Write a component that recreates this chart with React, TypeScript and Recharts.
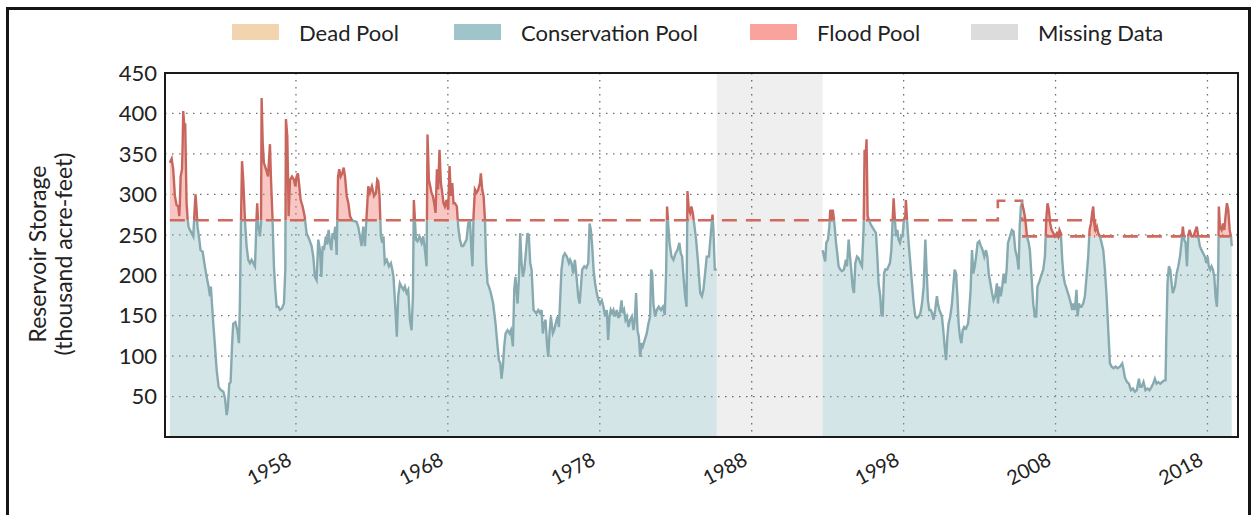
import React from 'react';
import { ComposedChart, Area, Line, XAxis, YAxis, CartesianGrid, ReferenceArea } from 'recharts';

// ---------- data (year, storage in thousand acre-feet) ----------
const storageEarly: [number, number][] = [
  [1949.70, 339], [1949.82, 344], [1949.92, 331], [1950.03, 298], [1950.14, 287], [1950.25, 285], [1950.32, 273],
  [1950.36, 289], [1950.41, 322], [1950.50, 331], [1950.54, 360], [1950.58, 403], [1950.65, 384], [1950.71, 388],
  [1950.76, 331], [1950.80, 289], [1950.87, 269], [1950.93, 260], [1951.02, 256], [1951.13, 252], [1951.24, 248],
  [1951.33, 281], [1951.39, 300], [1951.46, 281], [1951.52, 260], [1951.64, 244], [1951.72, 231], [1951.86, 229],
  [1951.97, 215], [1952.12, 198], [1952.25, 186], [1952.34, 174], [1952.40, 186], [1952.47, 165], [1952.56, 140],
  [1952.67, 112], [1952.78, 83], [1952.91, 62], [1953.06, 58], [1953.22, 56], [1953.33, 48], [1953.44, 27],
  [1953.52, 37], [1953.61, 66], [1953.70, 68], [1953.79, 112], [1953.87, 140], [1954.01, 142], [1954.14, 132],
  [1954.25, 116], [1954.31, 165], [1954.38, 264], [1954.45, 341], [1954.53, 318], [1954.64, 269], [1954.75, 236],
  [1954.86, 219], [1954.97, 215], [1955.08, 219], [1955.19, 215], [1955.30, 211], [1955.34, 231], [1955.41, 273],
  [1955.45, 289], [1955.52, 260], [1955.63, 248], [1955.70, 264], [1955.74, 419], [1955.81, 364], [1955.89, 339],
  [1956.03, 331], [1956.16, 322], [1956.29, 362], [1956.35, 322], [1956.46, 269], [1956.55, 211], [1956.64, 182],
  [1956.73, 161], [1956.84, 161], [1956.95, 157], [1957.08, 159], [1957.21, 165], [1957.30, 207], [1957.34, 393],
  [1957.43, 372], [1957.52, 273], [1957.61, 318], [1957.74, 322], [1957.87, 318], [1957.96, 310], [1958.04, 322],
  [1958.13, 326], [1958.22, 310], [1958.31, 293], [1958.44, 285], [1958.57, 273], [1958.70, 252], [1958.88, 244],
  [1959.03, 236], [1959.14, 223], [1959.25, 198], [1959.36, 194], [1959.47, 244], [1959.58, 231], [1959.67, 198],
  [1959.76, 236], [1959.84, 231], [1959.97, 248], [1960.06, 238], [1960.15, 256], [1960.24, 240], [1960.33, 231],
  [1960.41, 252], [1960.50, 248], [1960.59, 260], [1960.68, 225], [1960.77, 322], [1960.85, 331], [1960.94, 322],
  [1961.05, 326], [1961.14, 333], [1961.23, 322], [1961.34, 298], [1961.45, 289], [1961.56, 273], [1961.66, 269],
  [1961.77, 267], [1961.99, 266], [1962.10, 260], [1962.21, 248], [1962.32, 236], [1962.43, 260], [1962.54, 236],
  [1962.65, 273], [1962.76, 310], [1962.87, 302], [1963.00, 310], [1963.14, 298], [1963.27, 302], [1963.35, 318],
  [1963.42, 316], [1963.50, 298], [1963.59, 248], [1963.68, 240], [1963.76, 248], [1963.85, 215], [1963.98, 219],
  [1964.12, 211], [1964.25, 215], [1964.34, 207], [1964.42, 198], [1964.55, 157], [1964.64, 124], [1964.73, 174],
  [1964.84, 190], [1964.95, 186], [1965.08, 182], [1965.17, 186], [1965.28, 178], [1965.39, 182], [1965.50, 145],
  [1965.61, 132], [1965.70, 174], [1965.76, 293], [1965.83, 269], [1965.90, 244], [1966.00, 242], [1966.13, 248],
  [1966.27, 240], [1966.38, 248], [1966.49, 231], [1966.60, 211], [1966.66, 374], [1966.75, 318], [1966.84, 310],
  [1966.92, 302], [1967.01, 298], [1967.10, 289], [1967.19, 277], [1967.28, 331], [1967.36, 306], [1967.45, 355],
  [1967.54, 314], [1967.63, 302], [1967.71, 289], [1967.80, 285], [1967.91, 293], [1968.02, 281], [1968.11, 335],
  [1968.20, 298], [1968.29, 314], [1968.37, 289], [1968.46, 289], [1968.59, 285], [1968.68, 260], [1968.79, 244],
  [1968.90, 236], [1969.01, 236], [1969.12, 240], [1969.23, 244], [1969.34, 264], [1969.45, 269], [1969.56, 227],
  [1969.62, 211], [1969.69, 273], [1969.78, 306], [1969.89, 302], [1970.00, 306], [1970.11, 314], [1970.17, 326],
  [1970.26, 306], [1970.35, 298], [1970.44, 269], [1970.52, 215], [1970.61, 190], [1970.70, 186], [1970.83, 178],
  [1970.98, 165], [1971.14, 140], [1971.27, 112], [1971.36, 95], [1971.45, 91], [1971.53, 72], [1971.62, 87],
  [1971.71, 112], [1971.80, 128], [1971.93, 132], [1972.06, 128], [1972.15, 132], [1972.28, 112], [1972.37, 182],
  [1972.45, 198], [1972.59, 165], [1972.67, 194], [1972.76, 252], [1972.85, 215], [1972.94, 198], [1973.03, 207],
  [1973.11, 223], [1973.24, 252], [1973.33, 248], [1973.42, 215], [1973.51, 207], [1973.64, 157], [1973.82, 153],
  [1973.95, 157], [1974.08, 153], [1974.17, 157], [1974.25, 128], [1974.34, 140], [1974.43, 145], [1974.52, 116],
  [1974.61, 99], [1974.69, 128], [1974.78, 149], [1974.91, 128], [1975.00, 132], [1975.09, 140], [1975.22, 149],
  [1975.31, 136], [1975.40, 174], [1975.48, 207], [1975.59, 223], [1975.70, 227], [1975.83, 223], [1975.97, 215],
  [1976.05, 219], [1976.14, 215], [1976.25, 202], [1976.36, 219], [1976.47, 198], [1976.58, 174], [1976.67, 165],
  [1976.76, 186], [1976.84, 207], [1976.98, 211], [1977.11, 209], [1977.24, 215], [1977.33, 264], [1977.41, 256],
  [1977.50, 236], [1977.59, 207], [1977.69, 190], [1977.80, 178], [1977.91, 169], [1978.02, 165], [1978.13, 169],
  [1978.24, 161], [1978.35, 149], [1978.46, 157], [1978.55, 120], [1978.64, 149], [1978.72, 157], [1978.81, 153],
  [1978.90, 157], [1979.01, 149], [1979.12, 157], [1979.23, 147], [1979.34, 155], [1979.43, 169], [1979.51, 153],
  [1979.60, 157], [1979.69, 145], [1979.78, 149], [1979.89, 136], [1980.00, 145], [1980.11, 149], [1980.22, 132],
  [1980.30, 145], [1980.39, 178], [1980.48, 132], [1980.57, 124], [1980.66, 99], [1980.74, 116], [1980.83, 112],
  [1980.96, 120], [1981.09, 128], [1981.20, 140], [1981.31, 149], [1981.38, 207], [1981.45, 202], [1981.53, 165],
  [1981.64, 149], [1981.75, 157], [1981.88, 161], [1982.02, 157], [1982.15, 161], [1982.28, 151], [1982.37, 207],
  [1982.43, 285], [1982.50, 264], [1982.59, 240], [1982.72, 223], [1982.85, 219], [1982.98, 227], [1983.11, 231],
  [1983.24, 240], [1983.33, 227], [1983.42, 223], [1983.51, 198], [1983.62, 174], [1983.71, 161], [1983.77, 304],
  [1983.86, 281], [1983.95, 277], [1984.03, 285], [1984.12, 277], [1984.21, 264], [1984.34, 244], [1984.47, 215],
  [1984.61, 178], [1984.72, 174], [1984.82, 182], [1984.93, 202], [1985.04, 223], [1985.18, 223], [1985.26, 240],
  [1985.35, 260], [1985.42, 275], [1985.48, 256], [1985.57, 207], [1985.70, 207],
];

const storageLate: [number, number][] = [
  [1992.67, 231], [1992.76, 223], [1992.84, 217], [1992.91, 240], [1993.02, 244], [1993.11, 260], [1993.17, 281],
  [1993.24, 269], [1993.33, 281], [1993.39, 273], [1993.46, 260], [1993.55, 240], [1993.63, 227], [1993.72, 211],
  [1993.83, 207], [1993.94, 205], [1994.07, 207], [1994.20, 219], [1994.27, 211], [1994.38, 244], [1994.47, 223],
  [1994.55, 207], [1994.64, 186], [1994.73, 178], [1994.82, 215], [1994.93, 223], [1995.04, 221], [1995.15, 215],
  [1995.26, 211], [1995.37, 260], [1995.43, 355], [1995.50, 347], [1995.56, 368], [1995.63, 273], [1995.70, 269],
  [1995.81, 264], [1995.92, 260], [1996.05, 256], [1996.18, 252], [1996.27, 223], [1996.35, 190], [1996.46, 174],
  [1996.53, 153], [1996.62, 149], [1996.71, 202], [1996.79, 207], [1996.92, 207], [1997.01, 211], [1997.10, 215],
  [1997.19, 231], [1997.28, 269], [1997.34, 295], [1997.41, 273], [1997.50, 248], [1997.58, 256], [1997.67, 244],
  [1997.76, 240], [1997.85, 248], [1997.93, 248], [1998.02, 269], [1998.11, 273], [1998.15, 293], [1998.22, 269],
  [1998.33, 240], [1998.44, 215], [1998.55, 190], [1998.66, 165], [1998.77, 149], [1998.88, 147], [1998.99, 149],
  [1999.10, 153], [1999.21, 165], [1999.32, 186], [1999.43, 244], [1999.51, 207], [1999.60, 169], [1999.69, 157],
  [1999.78, 157], [1999.87, 153], [1999.97, 145], [2000.08, 157], [2000.19, 174], [2000.26, 165], [2000.35, 157],
  [2000.44, 153], [2000.52, 149], [2000.61, 132], [2000.70, 112], [2000.79, 95], [2000.88, 124], [2000.96, 140],
  [2001.07, 149], [2001.18, 165], [2001.27, 186], [2001.36, 207], [2001.45, 202], [2001.54, 174], [2001.62, 140],
  [2001.71, 124], [2001.80, 116], [2001.89, 132], [2001.98, 136], [2002.10, 134], [2002.24, 140], [2002.32, 157],
  [2002.41, 182], [2002.50, 231], [2002.59, 202], [2002.68, 211], [2002.77, 223], [2002.87, 240], [2002.98, 242],
  [2003.09, 236], [2003.20, 231], [2003.31, 223], [2003.42, 231], [2003.51, 223], [2003.60, 202], [2003.71, 190],
  [2003.82, 178], [2003.92, 169], [2004.03, 174], [2004.14, 190], [2004.21, 165], [2004.30, 186], [2004.39, 174],
  [2004.47, 182], [2004.58, 202], [2004.69, 190], [2004.78, 207], [2004.87, 240], [2005.00, 248], [2005.13, 256],
  [2005.24, 254], [2005.35, 231], [2005.46, 223], [2005.57, 207], [2005.64, 260], [2005.72, 285], [2005.79, 289],
  [2005.90, 281], [2006.01, 269], [2006.12, 248], [2006.23, 240], [2006.31, 231], [2006.42, 198], [2006.53, 165],
  [2006.64, 149], [2006.73, 149], [2006.81, 186], [2006.90, 190], [2007.03, 198], [2007.19, 207], [2007.30, 223],
  [2007.39, 269], [2007.47, 289], [2007.56, 281], [2007.65, 264], [2007.74, 256], [2007.85, 252], [2007.96, 248],
  [2008.09, 252], [2008.18, 248], [2008.26, 256], [2008.35, 252], [2008.44, 219], [2008.53, 198], [2008.61, 190],
  [2008.75, 182], [2008.88, 174], [2009.01, 165], [2009.10, 157], [2009.18, 165], [2009.27, 157], [2009.38, 182],
  [2009.45, 149], [2009.54, 165], [2009.62, 161], [2009.71, 161], [2009.82, 165], [2009.93, 174], [2010.04, 198],
  [2010.15, 223], [2010.24, 256], [2010.33, 264], [2010.41, 277], [2010.48, 285], [2010.55, 264], [2010.63, 256],
  [2010.72, 260], [2010.81, 252], [2010.92, 248], [2011.03, 240], [2011.14, 231], [2011.25, 207], [2011.36, 174],
  [2011.47, 132], [2011.58, 91], [2011.69, 87], [2011.82, 85], [2011.95, 87], [2012.08, 85], [2012.24, 87],
  [2012.39, 91], [2012.48, 83], [2012.56, 74], [2012.70, 68], [2012.83, 66], [2012.96, 58], [2013.09, 60],
  [2013.22, 56], [2013.35, 58], [2013.49, 72], [2013.57, 62], [2013.66, 62], [2013.79, 68], [2013.92, 58],
  [2014.06, 60], [2014.19, 58], [2014.32, 62], [2014.43, 66], [2014.54, 72], [2014.65, 66], [2014.76, 68],
  [2014.89, 66], [2015.02, 68], [2015.15, 70], [2015.24, 70], [2015.29, 124], [2015.37, 190], [2015.46, 211],
  [2015.55, 207], [2015.64, 190], [2015.72, 178], [2015.86, 186], [2015.97, 202], [2016.08, 211], [2016.19, 223],
  [2016.29, 240], [2016.38, 260], [2016.47, 244], [2016.56, 240], [2016.65, 211], [2016.73, 248], [2016.82, 256],
  [2016.95, 248], [2017.08, 248], [2017.22, 256], [2017.30, 260], [2017.39, 248], [2017.50, 236], [2017.61, 231],
  [2017.72, 227], [2017.83, 223], [2017.92, 215], [2018.01, 223], [2018.09, 211], [2018.18, 207], [2018.27, 211],
  [2018.36, 207], [2018.45, 198], [2018.53, 174], [2018.62, 161], [2018.71, 207], [2018.75, 285], [2018.82, 260],
  [2018.93, 256], [2019.02, 264], [2019.11, 256], [2019.19, 273], [2019.28, 289], [2019.37, 281], [2019.46, 256],
  [2019.55, 248], [2019.60, 236],
];

const missingStart = 1985.7;
const missingEnd = 1992.67;

// flood-control level schedule (year it starts, level)
const floodSchedule: [number, number][] = [[1949.0, 268], [2004.2, 292], [2005.8, 248]];
const floodUpper: [number, number][] = [
  [1949.7, 268], [2004.2, 268], [2004.2, 292], [2005.8, 292], [2005.8, 268],
  [2010.6, 268], [2010.6, 248], [2019.6, 248],
];
const floodLower: [number, number][] = [[2005.8, 248], [2010.6, 248]];

const xTicks = [1958, 1968, 1978, 1988, 1998, 2008, 2018];
const yTicks = [50, 100, 150, 200, 250, 300, 350, 400, 450];

const legendLabels = ['Dead Pool', 'Conservation Pool', 'Flood Pool', 'Missing Data'];
const legendColors = ['#f2d4ae', '#9fc4ca', '#f9a39c', '#dcdcdc'];

// ---------- derived table ----------
function floodAt(t: number): number {
  let f = floodSchedule[0][1];
  for (const [s, lvl] of floodSchedule) if (t >= s) f = lvl;
  return f;
}

function makeRow(t: number, v: number, f: number) {
  return {
    t,
    cons: Math.min(v, f),
    excess: [f, Math.max(v, f)],
    lo: v <= f ? v : null,
    hi: v >= f ? v : null,
  };
}

function buildSegment(seg: [number, number][]) {
  const rows: any[] = [];
  for (let i = 0; i < seg.length; i++) {
    const [t, v] = seg[i];
    const f = floodAt(t);
    if (i > 0) {
      const [tp, vp] = seg[i - 1];
      const fp = floodAt(tp);
      const dp = vp - fp;
      const d = v - f;
      if ((dp < 0 && d > 0) || (dp > 0 && d < 0)) {
        const r = dp / (dp - d);
        const tc = tp + r * (t - tp);
        const fc = fp + r * (f - fp);
        rows.push(makeRow(tc, fc, fc));
      }
    }
    rows.push(makeRow(t, v, f));
  }
  return rows;
}

const table = [
  ...buildSegment(storageEarly),
  { t: (missingStart + missingEnd) / 2, cons: null, excess: null, lo: null, hi: null },
  ...buildSegment(storageLate),
];

const floodUpperRows = floodUpper.map(([t, f]) => ({ t, f }));
const floodLowerRows = floodLower.map(([t, f]) => ({ t, f }));

const FONT = 'Lato, "Open Sans", sans-serif';

const XTick = (props: any) => {
  const { x, y, payload } = props;
  const ax = x - 3;
  const ay = y + 19;
  return (
    <text x={ax} y={ay} transform={`rotate(-28 ${ax} ${ay})`} textAnchor="end" fontSize={20} fontFamily={FONT} fill="#222">
      {payload.value}
    </text>
  );
};

const legendLeft = [232, 454, 750, 971];

export default function App() {
  return (
    <div style={{ position: 'fixed', left: 0, top: 0, width: 1259, height: 515, overflow: 'hidden', background: '#fff', fontFamily: FONT }}>
      <div style={{ position: 'absolute', left: 6, top: 7, width: 1245, height: 600, border: '3px solid #151515', boxSizing: 'border-box' }} />
      {legendLabels.map((lab, i) => (
        <div key={lab} style={{ position: 'absolute', left: legendLeft[i], top: 19, height: 26, display: 'flex', alignItems: 'center' }}>
          <div style={{ width: 47, height: 16, background: legendColors[i] }} />
          <span style={{ marginLeft: 20, fontSize: 22, color: '#222', whiteSpace: 'nowrap' }}>{lab}</span>
        </div>
      ))}
      <svg style={{ position: 'absolute', left: 0, top: 0 }} width={100} height={515}>
        <text x={46} y={254} transform="rotate(-90 46 254)" textAnchor="middle" fontSize={23} fontFamily={FONT} fill="#222">Reservoir Storage</text>
        <text x={72} y={254} transform="rotate(-90 72 254)" textAnchor="middle" fontSize={23} fontFamily={FONT} fill="#222">(thousand acre-feet)</text>
      </svg>
      <div style={{ position: 'absolute', left: 0, top: 0 }}>
        <ComposedChart width={1259} height={515} data={table} margin={{ top: 73, right: 21, bottom: 0, left: 0 }}>
          <CartesianGrid stroke="#6f6f6f" strokeWidth={1.3} strokeDasharray="1.5 5.5" />
          <XAxis
            dataKey="t"
            type="number"
            domain={[1949.38, 2020.01]}
            ticks={xTicks}
            allowDataOverflow
            height={78}
            tickLine={false}
            axisLine={false}
            tick={<XTick />}
            interval={0}
          />
          <YAxis
            type="number"
            domain={[0, 450]}
            ticks={yTicks}
            width={165}
            tickLine={false}
            axisLine={false}
            allowDataOverflow
            tick={{ fontSize: 22, fill: '#222', fontFamily: FONT }}
            interval={0}
          />
          <ReferenceArea x1={missingStart} x2={missingEnd} y1={0} y2={450} fill="#000" fillOpacity={0.063} stroke="none" ifOverflow="hidden" />
          <Area dataKey="cons" type="linear" stroke="none" fill="#7db0b8" fillOpacity={0.33} connectNulls={false} isAnimationActive={false} dot={false} activeDot={false} />
          <Area dataKey="excess" type="linear" stroke="none" fill="#f0786e" fillOpacity={0.41} connectNulls={false} isAnimationActive={false} dot={false} activeDot={false} />
          <Line data={floodUpperRows} dataKey="f" type="linear" stroke="#d2695f" strokeWidth={2.6} strokeDasharray="15 9" dot={false} activeDot={false} isAnimationActive={false} />
          <Line data={floodLowerRows} dataKey="f" type="linear" stroke="#d2695f" strokeWidth={2.6} strokeDasharray="15 9" dot={false} activeDot={false} isAnimationActive={false} />
          <Line dataKey="lo" type="linear" stroke="#86aab0" strokeWidth={2.4} dot={false} activeDot={false} connectNulls={false} isAnimationActive={false} />
          <Line dataKey="hi" type="linear" stroke="#c8665d" strokeWidth={2.4} dot={false} activeDot={false} connectNulls={false} isAnimationActive={false} />
        </ComposedChart>
      </div>
      <div style={{ position: 'absolute', left: 164, top: 72, width: 1075, height: 366, border: '2px solid #1a1a1a', boxSizing: 'border-box', pointerEvents: 'none' }} />
    </div>
  );
}
